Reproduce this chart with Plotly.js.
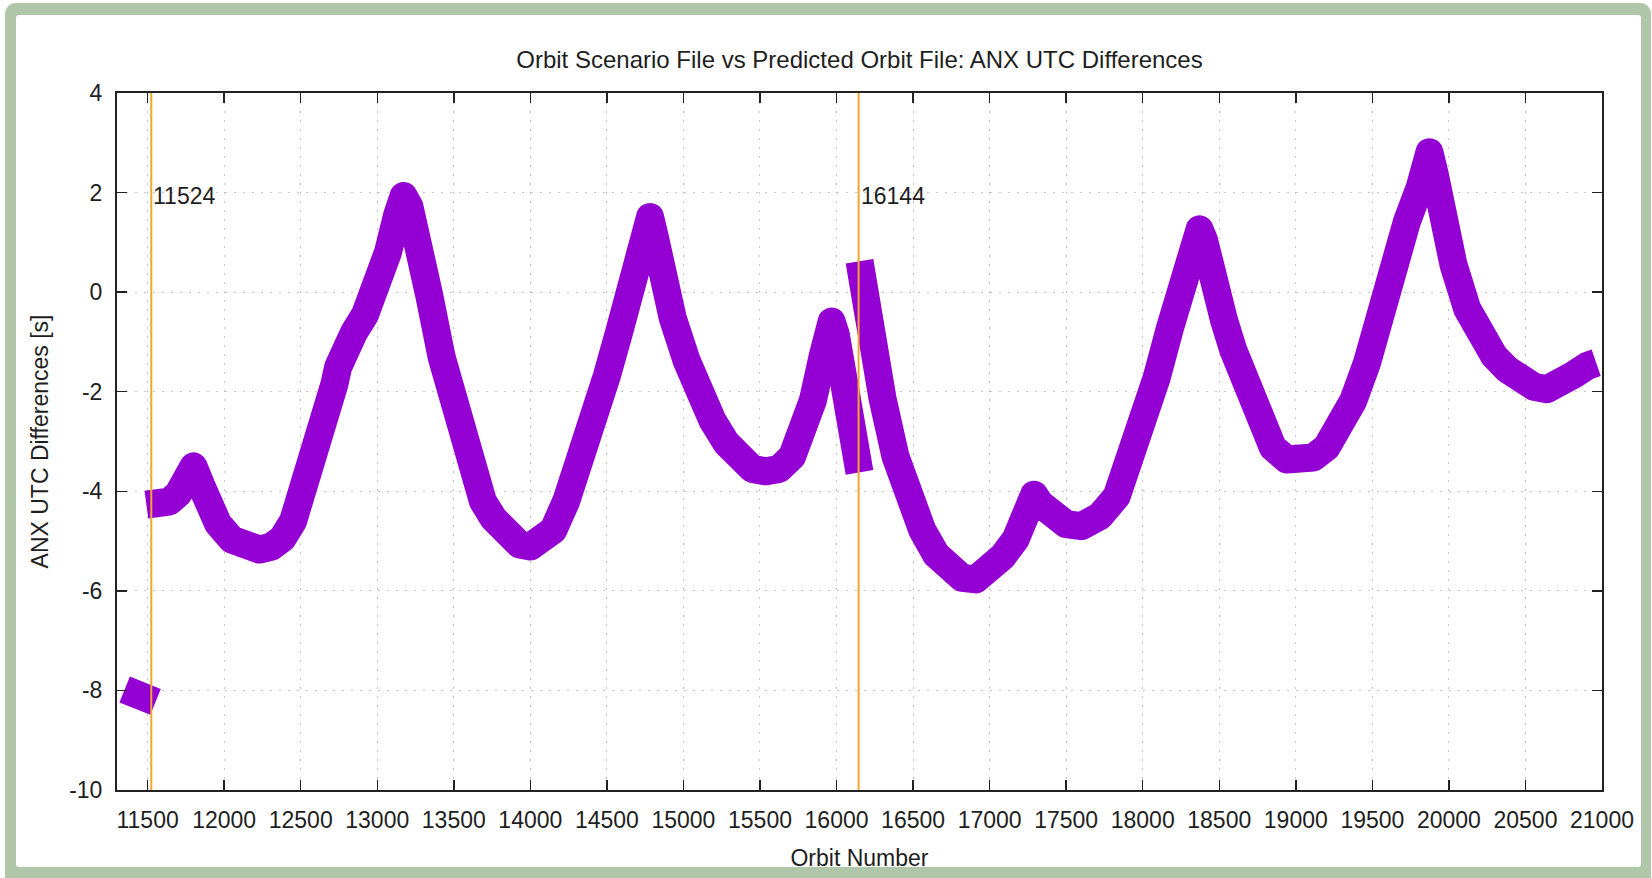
<!DOCTYPE html>
<html>
<head>
<meta charset="utf-8">
<script src="https://cdn.plot.ly/plotly-3.0.1.min.js"></script>
<style>
  html, body { margin: 0; padding: 0; background: #ffffff; }
  #frame { position: absolute; left: 5px; top: 3px; width: 1646px; height: 890px; background: #afc6a9; border-radius: 11px; }
  #inner { position: absolute; left: 16px; top: 15px; width: 1625px; height: 852px; background: #ffffff; border-radius: 3px; }
  #chart { position: absolute; left: 0; top: 0; width: 1652px; height: 878px; }
  .js-line { stroke-linejoin: round !important; }
</style>
</head>
<body>
<div id="frame"></div>
<div id="inner"></div>
<div id="chart"></div>
<script>
// Segment before the 11524 event
const segAOrbit = [11350, 11400, 11460, 11520, 11552];
const segAValue = [-7.98, -8.03, -8.10, -8.20, -8.23];

// Segment between 11524 and 16144
const segBOrbit = [11492, 11560, 11640, 11700, 11750, 11800, 11850, 11900, 11960, 12050,
  12150, 12230, 12310, 12380, 12450, 12500, 12570, 12650, 12720, 12745, 12780, 12850, 12920,
  12990, 13070, 13130, 13172, 13210, 13250, 13290, 13340, 13420, 13510, 13600, 13690, 13760,
  13840, 13930, 14000, 14070, 14150, 14235, 14320, 14410, 14500, 14580, 14670, 14740, 14782,
  14810, 14845, 14930, 15020, 15100, 15190, 15280, 15365, 15450, 15540, 15625, 15710, 15780,
  15845, 15910, 15968, 15995, 16040, 16095, 16150];
const segBValue = [-4.27, -4.27, -4.21, -4.05, -3.82, -3.50, -3.88, -4.30, -4.65, -4.97,
  -5.15, -5.17, -5.11, -4.95, -4.60, -4.15, -3.45, -2.65, -1.85, -1.50, -1.15, -0.80, -0.45,
  0.05, 0.80, 1.55, 1.93, 1.72, 1.30, 0.65, -0.07, -1.30, -2.40, -3.40, -4.20, -4.55,
  -4.88, -5.07, -5.11, -5.02, -4.78, -4.19, -3.48, -2.63, -1.68, -0.80, 0.15, 1.00, 1.51,
  1.15, 0.60, -0.52, -1.37, -2.04, -2.58, -3.03, -3.34, -3.55, -3.60, -3.55, -3.30, -2.85,
  -2.18, -1.28, -0.59, -0.85, -1.95, -3.03, -3.62];

// Segment after 16144
const segCOrbit = [16150, 16210, 16300, 16385, 16470, 16560, 16650, 16735, 16820, 16910,
  17000, 17085, 17170, 17240, 17290, 17330, 17400, 17500, 17600, 17720, 17830, 17915, 18005,
  18090, 18180, 18265, 18330, 18371, 18400, 18440, 18530, 18590, 18680, 18765, 18850, 18940,
  19030, 19115, 19200, 19290, 19375, 19465, 19550, 19640, 19725, 19810, 19873, 19905, 19945,
  20030, 20120, 20205, 20295, 20380, 20470, 20555, 20640, 20730, 20815, 20905, 20962];
const segCValue = [0.62, -0.88, -2.13, -3.30, -4.10, -4.78, -5.27, -5.60, -5.74, -5.77,
  -5.56, -5.31, -4.96, -4.45, -4.07, -4.25, -4.48, -4.66, -4.70, -4.50, -4.10, -3.43, -2.63,
  -1.73, -0.70, 0.29, 1.00, 1.26, 1.05, 0.40, -0.55, -1.15, -1.95, -2.58, -3.12, -3.36,
  -3.40, -3.32, -3.12, -2.72, -2.18, -1.42, -0.39, 0.65, 1.41, 2.11, 2.81, 2.40, 1.63,
  0.55, -0.34, -0.92, -1.28, -1.55, -1.77, -1.90, -1.95, -1.86, -1.66, -1.48, -1.42];

// Event lines
const eventOrbits = [11524, 16144];
const eventLabelLevel = 2;

// Axis ticks
const xTickVals = [11500, 12000, 12500, 13000, 13500, 14000, 14500, 15000, 15500, 16000,
  16500, 17000, 17500, 18000, 18500, 19000, 19500, 20000, 20500, 21000];
const xTickText = xTickVals.map(v => String(v));
const yTickVals = [-10, -8, -6, -4, -2, 0, 2, 4];
const yTickText = ['-10', '-8', '-6', '-4', '-2', '0', '2', '4'];

const FONT = 'Liberation Sans, Arial, Helvetica, sans-serif';
const TXT = '#1e1e1e';
const PURPLE = '#9400d3';
const ORANGE = '#f0a630';

function seg(x, y) {
  return { x: x, y: y, type: 'scatter', mode: 'lines',
    line: { color: PURPLE, width: 28, shape: 'linear' },
    hoverinfo: 'skip', showlegend: false };
}

const data = [seg(segAOrbit, segAValue), seg(segBOrbit, segBValue), seg(segCOrbit, segCValue)];

const axisCommon = {
  ticks: 'inside', ticklen: 10, tickwidth: 1.5, tickcolor: '#222',
  showline: true, linewidth: 2, linecolor: '#222', mirror: 'ticks',
  showgrid: true, gridcolor: '#c6c6c6', gridwidth: 1, griddash: '2px,7px',
  zeroline: false, automargin: false, fixedrange: true,
  tickfont: { family: FONT, size: 23, color: TXT }
};

const layout = {
  width: 1652, height: 878,
  margin: { l: 117, r: 50, t: 93, b: 88 },
  paper_bgcolor: 'rgba(0,0,0,0)', plot_bgcolor: '#ffffff',
  font: { family: FONT, size: 23, color: TXT },
  title: { text: 'Orbit Scenario File vs Predicted Orbit File: ANX UTC Differences',
    font: { family: FONT, size: 24, color: TXT },
    xref: 'paper', x: 0.5, xanchor: 'center', yref: 'container', y: 1 - 60 / 878, yanchor: 'middle' },
  xaxis: Object.assign({}, axisCommon, {
    range: [11300, 21000], tickmode: 'array', tickvals: xTickVals, ticktext: xTickText,
    ticklabelstandoff: 8,
    title: { text: 'Orbit Number', font: { family: FONT, size: 23, color: TXT }, standoff: 18 }
  }),
  yaxis: Object.assign({}, axisCommon, {
    range: [-10, 4], tickmode: 'array', tickvals: yTickVals, ticktext: yTickText,
    ticklabelstandoff: 8,
    title: { text: 'ANX UTC Differences [s]', font: { family: FONT, size: 23, color: TXT }, standoff: 14 }
  }),
  shapes: eventOrbits.map(o => ({
    type: 'line', xref: 'x', yref: 'paper', x0: o, x1: o, y0: 0, y1: 1,
    line: { color: ORANGE, width: 2 }, layer: 'above'
  })),
  annotations: eventOrbits.map(o => ({
    text: String(o), x: o, y: eventLabelLevel, xref: 'x', yref: 'y',
    xanchor: 'left', yanchor: 'middle', showarrow: false, xshift: 0, yshift: -3,
    font: { family: FONT, size: 23, color: TXT }
  })),
  showlegend: false, hovermode: false
};

Plotly.newPlot('chart', data, layout, { displayModeBar: false, staticPlot: true });
</script>
</body>
</html>
